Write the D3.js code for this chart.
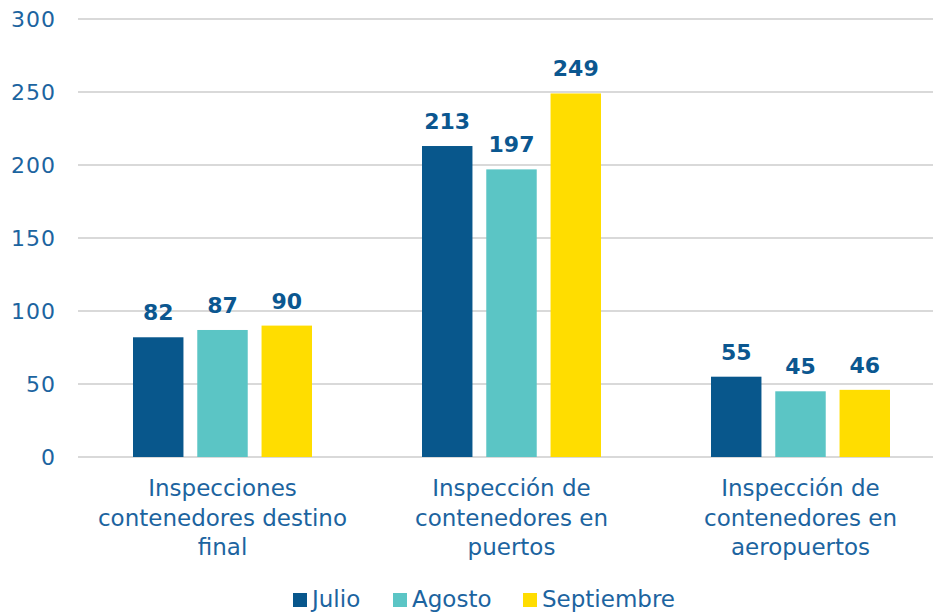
<!DOCTYPE html>
<html>
<head>
<meta charset="utf-8">
<script src="https://cdn.jsdelivr.net/npm/d3@7"></script>
<style>
  body { margin: 0; background: #fff; }
  text { font-family: "DejaVu Sans", sans-serif; }
</style>
</head>
<body>
<script>
// data
var categories = ["Inspecciones contenedores destino final", "Inspección de contenedores en puertos", "Inspección de contenedores en aeropuertos"]
var categoryLines = [
  ["Inspecciones", "contenedores destino", "final"],
  ["Inspección de", "contenedores en", "puertos"],
  ["Inspección de", "contenedores en", "aeropuertos"]
]
var series = ["Julio", "Agosto", "Septiembre"]
var julio = [82, 213, 55]
var agosto = [87, 197, 45]
var septiembre = [90, 249, 46]
var yTicks = [0, 50, 100, 150, 200, 250, 300]

var colors = ["#08578c", "#5bc5c5", "#ffdd00"]
var values = [julio, agosto, septiembre]

var width = 933, height = 615
var plotLeft = 78, plotRight = 945, plotTop = 19, plotBottom = 457

var svg = d3.select("body").append("svg")
  .attr("width", width)
  .attr("height", height)

var x0 = d3.scaleBand().domain(categories).range([plotLeft, plotRight])
var x1 = d3.scaleBand().domain(series).range([55, 289 - 55]).paddingInner(0.215)
var y = d3.scaleLinear().domain([0, 300]).range([plotBottom, plotTop])

// grid
svg.append("g").selectAll("line")
  .data(yTicks)
  .enter().append("line")
  .attr("x1", plotLeft)
  .attr("x2", width)
  .attr("y1", d => y(d))
  .attr("y2", d => y(d))
  .attr("stroke", "#d9d9d9")
  .attr("stroke-width", 2)

// y labels
var yAxis = svg.append("g")
  .attr("transform", "translate(" + (plotLeft - 22) + ",0)")
  .call(d3.axisLeft(y).tickValues(yTicks).tickSize(0).tickPadding(0))
yAxis.select(".domain").remove()
yAxis.selectAll("text")
  .attr("fill", "#1c64a0")
  .style("font-family", "'DejaVu Sans', sans-serif")
  .style("font-size", "22px")
  .style("letter-spacing", "1px")
  .attr("dy", "0.35em")

// bars
var groups = svg.append("g").selectAll("g")
  .data(categories)
  .enter().append("g")
  .attr("transform", d => "translate(" + x0(d) + ",0)")

groups.selectAll("rect")
  .data((d, i) => series.map((s, j) => ({ s: s, v: values[j][i], c: colors[j] })))
  .enter().append("rect")
  .attr("x", d => x1(d.s))
  .attr("width", x1.bandwidth())
  .attr("y", d => y(d.v))
  .attr("height", d => plotBottom - y(d.v))
  .attr("fill", d => d.c)

groups.selectAll(".lbl")
  .data((d, i) => series.map((s, j) => ({ s: s, v: values[j][i] })))
  .enter().append("text")
  .attr("class", "lbl")
  .attr("x", d => x1(d.s) + x1.bandwidth() / 2)
  .attr("y", d => y(d.v) - 17)
  .attr("text-anchor", "middle")
  .attr("fill", "#0b5790")
  .style("font-size", "22px")
  .style("font-weight", "bold")
  .text(d => d.v)

// category labels
groups.each(function(d, i) {
  var t = d3.select(this).append("text")
    .attr("text-anchor", "middle")
    .attr("fill", "#1c64a0")
    .style("font-size", "23px")
  t.selectAll("tspan")
    .data(categoryLines[i])
    .enter().append("tspan")
    .attr("x", x0.bandwidth() / 2)
    .attr("y", (l, k) => 496 + k * 29.5)
    .text(l => l)
})

// legend
var legendX = [293, 393, 523]
var legend = svg.append("g").selectAll("g")
  .data(series)
  .enter().append("g")
  .attr("transform", (d, i) => "translate(" + legendX[i] + ",593)")
legend.append("rect")
  .attr("width", 14)
  .attr("height", 14)
  .attr("fill", (d, i) => colors[i])
legend.append("text")
  .attr("x", 19)
  .attr("y", 14)
  .attr("fill", "#1c64a0")
  .style("font-size", "23px")
  .text(d => d)
</script>
</body>
</html>
